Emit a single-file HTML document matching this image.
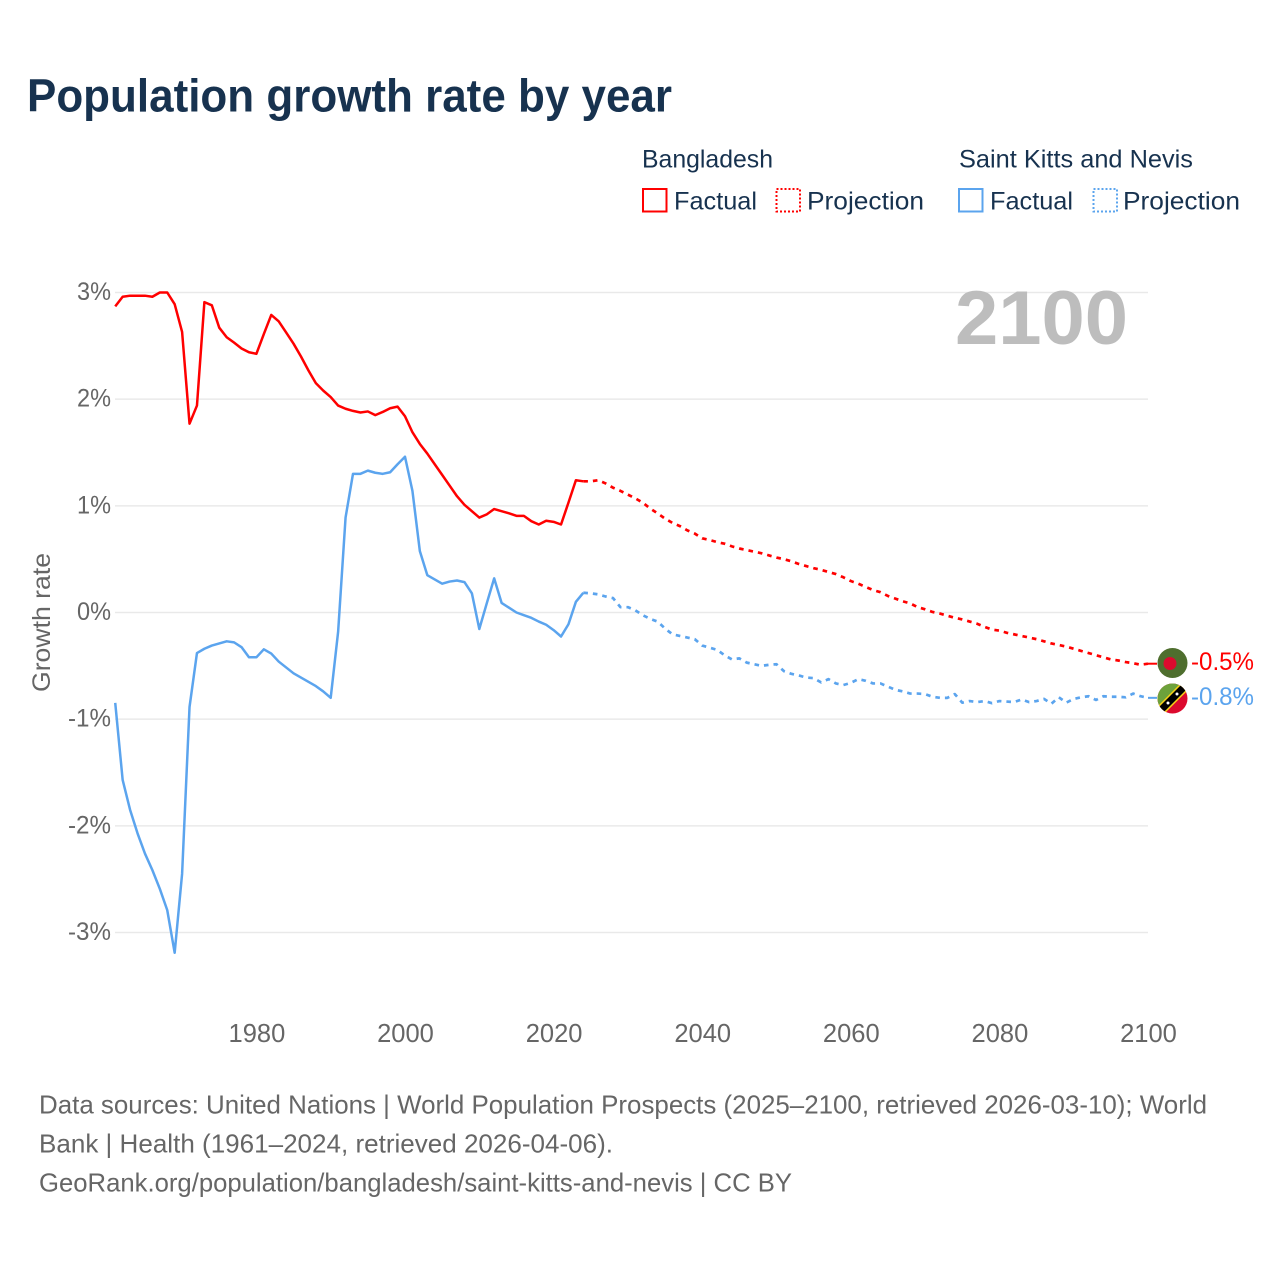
<!DOCTYPE html>
<html>
<head>
<meta charset="utf-8">
<title>Population growth rate by year</title>
<style>
html,body{margin:0;padding:0;background:#fff;}
svg{display:block;}
text{font-family:"Liberation Sans",sans-serif;}
</style>
</head>
<body>
<svg id="chart" width="1280" height="1280" viewBox="0 0 1280 1280" xmlns="http://www.w3.org/2000/svg">
  <defs>
    <clipPath id="clip-a"><circle cx="1172.5" cy="663" r="15"/></clipPath>
    <clipPath id="clip-b"><circle cx="1172.5" cy="698.5" r="15"/></clipPath>
  </defs>
  <rect width="1280" height="1280" fill="#fff"/>
  <text x="27" y="111.5" font-size="46" font-weight="700" fill="#17324f" textLength="645" lengthAdjust="spacingAndGlyphs">Population growth rate by year</text>

  <g fill="#17324f" font-size="25">
    <text x="642" y="167.5" textLength="131" lengthAdjust="spacingAndGlyphs">Bangladesh</text>
    <text x="959" y="167.5" textLength="234" lengthAdjust="spacingAndGlyphs">Saint Kitts and Nevis</text>
    <rect x="643" y="189" width="23.5" height="22.5" fill="none" stroke="#ff0000" stroke-width="2"/>
    <text x="674" y="209.5" textLength="83" lengthAdjust="spacingAndGlyphs">Factual</text>
    <rect x="776.5" y="189" width="23.5" height="22.5" fill="none" stroke="#ff0000" stroke-width="2" stroke-dasharray="2 2"/>
    <text x="807" y="209.5" textLength="117" lengthAdjust="spacingAndGlyphs">Projection</text>
    <rect x="959" y="189" width="23.5" height="22.5" fill="none" stroke="#5ba4ee" stroke-width="2"/>
    <text x="990" y="209.5" textLength="83" lengthAdjust="spacingAndGlyphs">Factual</text>
    <rect x="1093.5" y="189" width="23.5" height="22.5" fill="none" stroke="#5ba4ee" stroke-width="2" stroke-dasharray="2 2"/>
    <text x="1123" y="209.5" textLength="117" lengthAdjust="spacingAndGlyphs">Projection</text>
  </g>

  <g id="grid"></g>
  <g id="yticks"></g>
  <g id="xticks"></g>
  <text transform="translate(50,692) rotate(-90)" font-size="25" fill="#666" textLength="139" lengthAdjust="spacingAndGlyphs">Growth rate</text>
  <text x="955" y="344" font-size="76" font-weight="700" fill="#bdbdbd" textLength="173" lengthAdjust="spacingAndGlyphs">2100</text>
  <g id="series"></g>

  <g clip-path="url(#clip-a)">
    <rect x="1155" y="645" width="35" height="36" fill="#4e6e2e"/>
    <circle cx="1170" cy="663.5" r="6.5" fill="#dc0a2e"/>
  </g>
  <g clip-path="url(#clip-b)">
    <rect x="1155" y="681" width="35" height="36" fill="#dc0a2e"/>
    <polygon points="1155,681 1190,681 1155,716" fill="#6da23b"/>
    <line x1="1157" y1="714" x2="1188" y2="683" stroke="#f7d116" stroke-width="10"/>
    <line x1="1157" y1="714" x2="1188" y2="683" stroke="#000" stroke-width="7"/>
    <circle cx="1168" cy="703" r="1.5" fill="#fff"/>
    <circle cx="1177" cy="694" r="1.5" fill="#fff"/>
  </g>
  <text id="end-a" x="1191" y="670" font-size="25" fill="#ff0000" textLength="63" lengthAdjust="spacingAndGlyphs">-0.5%</text>
  <text id="end-b" x="1191" y="705" font-size="25" fill="#5ba4ee" textLength="63" lengthAdjust="spacingAndGlyphs">-0.8%</text>

  <g font-size="26" fill="#666">
    <text x="39" y="1113.5" textLength="1168" lengthAdjust="spacingAndGlyphs">Data sources: United Nations | World Population Prospects (2025–2100, retrieved 2026-03-10); World</text>
    <text x="39" y="1152.5" textLength="574" lengthAdjust="spacingAndGlyphs">Bank | Health (1961–2024, retrieved 2026-04-06).</text>
    <text x="39" y="1191.5" textLength="753" lengthAdjust="spacingAndGlyphs">GeoRank.org/population/bangladesh/saint-kitts-and-nevis | CC BY</text>
  </g>
</svg>
<script>
const firstYear = 1961;
const lastFactualYear = 2024;
const yTickValues = [3, 2, 1, 0, -1, -2, -3];
const yTickLabels = ["3%", "2%", "1%", "0%", "-1%", "-2%", "-3%"];
const xTickValues = [1980, 2000, 2020, 2040, 2060, 2080, 2100];
const xTickLabels = ["1980", "2000", "2020", "2040", "2060", "2080", "2100"];

const bangladeshFactual = [
  2.87,2.96,2.97,2.97,2.97,2.96,3.0,3.0,2.89,2.63,
  1.77,1.94,2.91,2.88,2.67,2.58,2.53,2.475,2.44,2.425,
  2.61,2.79,2.73,2.625,2.52,2.40,2.27,2.15,2.08,2.02,
  1.94,1.91,1.89,1.875,1.885,1.85,1.88,1.915,1.93,1.84,
  1.69,1.58,1.49,1.39,1.29,1.19,1.09,1.01,0.95,0.89,
  0.92,0.97,0.95,0.93,0.906,0.906,0.856,0.825,0.86,0.85,
  0.825,1.03,1.24,1.23
];
const bangladeshProjection = [
  1.23,1.24,1.21,1.17,1.14,1.105,1.07,1.03,0.975,0.93,
  0.88,0.84,0.81,0.77,0.74,0.695,0.68,0.66,0.645,0.62,
  0.60,0.585,0.57,0.555,0.535,0.515,0.50,0.48,0.455,0.435,
  0.415,0.40,0.38,0.36,0.33,0.295,0.27,0.24,0.21,0.19,
  0.155,0.13,0.105,0.085,0.05,0.03,0.005,-0.01,-0.03,-0.05,
  -0.065,-0.085,-0.105,-0.135,-0.16,-0.17,-0.19,-0.205,-0.22,-0.235,
  -0.25,-0.27,-0.29,-0.305,-0.32,-0.34,-0.36,-0.38,-0.40,-0.42,
  -0.44,-0.45,-0.465,-0.475,-0.49,-0.48
];
const saintKittsFactual = [
  -0.847,-1.57,-1.85,-2.07,-2.26,-2.415,-2.59,-2.79,-3.19,-2.45,
  -0.885,-0.38,-0.34,-0.31,-0.29,-0.27,-0.28,-0.325,-0.42,-0.42,
  -0.345,-0.385,-0.46,-0.515,-0.57,-0.61,-0.65,-0.69,-0.74,-0.80,
  -0.18,0.89,1.30,1.30,1.33,1.31,1.30,1.315,1.39,1.46,
  1.14,0.575,0.35,0.31,0.27,0.29,0.30,0.285,0.18,-0.155,
  0.085,0.32,0.09,0.045,0,-0.025,-0.05,-0.085,-0.115,-0.165,
  -0.225,-0.11,0.10,0.185
];
const saintKittsProjection = [
  0.18,0.17,0.15,0.135,0.05,0.05,0.02,-0.025,-0.06,-0.085,
  -0.15,-0.205,-0.22,-0.235,-0.25,-0.31,-0.33,-0.35,-0.40,-0.44,
  -0.43,-0.47,-0.485,-0.50,-0.49,-0.485,-0.55,-0.575,-0.59,-0.61,
  -0.615,-0.655,-0.625,-0.665,-0.68,-0.66,-0.625,-0.64,-0.665,-0.665,
  -0.695,-0.725,-0.74,-0.76,-0.76,-0.765,-0.79,-0.80,-0.80,-0.765,
  -0.845,-0.83,-0.84,-0.83,-0.85,-0.83,-0.835,-0.84,-0.815,-0.84,
  -0.83,-0.81,-0.855,-0.795,-0.845,-0.81,-0.795,-0.785,-0.82,-0.785,
  -0.79,-0.79,-0.795,-0.76,-0.785,-0.80
];

const NS = "http://www.w3.org/2000/svg";
function xScale(year) { return 1148 + (year - 2100) * 7.43; }
function yScale(v) { return 612.5 - v * 106.67; }

function make(parent, tag, attrs) {
  const el = document.createElementNS(NS, tag);
  for (const k in attrs) el.setAttribute(k, attrs[k]);
  parent.appendChild(el);
  return el;
}

const gridG = document.getElementById("grid");
const yG = document.getElementById("yticks");
yTickValues.forEach(function (v, i) {
  const ln = make(gridG, "line", { x1: 115, x2: 1148, y1: yScale(v), y2: yScale(v), stroke: "#e9e9e9", "stroke-width": 1.5 });
  
  
  const w = yTickLabels[i].length === 3 ? 43 : 34;
  const t = make(yG, "text", { x: 111 - w, y: yScale(v) + 7.5, "font-size": 25, fill: "#666", textLength: w, lengthAdjust: "spacingAndGlyphs" });
  t.textContent = yTickLabels[i];
  
  
});

const xG = document.getElementById("xticks");
xTickValues.forEach(function (yr, i) {
  const t = make(xG, "text", { x: xScale(yr) + 0.5, y: 1042, "text-anchor": "middle", "font-size": 25.5, fill: "#666" });
  t.textContent = xTickLabels[i];
  
  
});

function linePoints(values, startYear) {
  return values.map(function (v, i) {
    return xScale(startYear + i).toFixed(2) + "," + yScale(v).toFixed(2);
  }).join(" ");
}
const seriesG = document.getElementById("series");

function drawSeries(factual, projection, color, slug) {
  const joined = [factual[factual.length - 1]].concat(projection);
  const proj = make(seriesG, "polyline", {
    points: linePoints(joined, lastFactualYear), fill: "none", stroke: color,
    "stroke-width": 2.7, "stroke-dasharray": "4.6 5", "stroke-linejoin": "round"
  });
  
  
  const fact = make(seriesG, "polyline", {
    points: linePoints(factual, firstYear), fill: "none", stroke: color,
    "stroke-width": 2.5, "stroke-linejoin": "round"
  });
  
  
  const lastV = projection[projection.length - 1];
  const leader = make(seriesG, "line", {
    x1: xScale(2100), x2: xScale(2100) + 9, y1: yScale(lastV), y2: yScale(lastV), stroke: color, "stroke-width": 2
  });
  
  
}
drawSeries(bangladeshFactual, bangladeshProjection, "#ff0000", "bangladesh");
drawSeries(saintKittsFactual, saintKittsProjection, "#5ba4ee", "saint-kitts");
</script>
</body>
</html>
